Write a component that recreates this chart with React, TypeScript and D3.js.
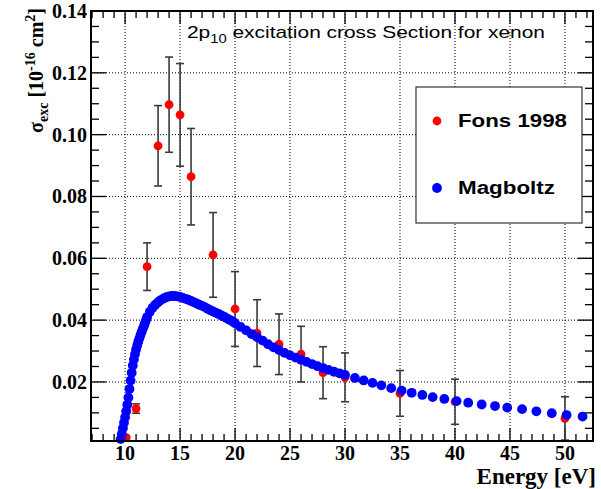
import React from "react";
import * as d3 from "d3";

// Fons 1998 measurements: energy (eV), cross section (1e-16 cm^2), error
const fonsEnergy = [10.1, 11, 12, 13, 14, 15, 16, 18, 20, 22, 24, 26, 28, 30, 35, 40, 50];
const fonsSigma = [0.002, 0.0114, 0.0573, 0.0964, 0.1097, 0.1064, 0.0864, 0.0611, 0.0436, 0.0358, 0.0322, 0.029, 0.023, 0.0215, 0.0163, 0.0136, 0.0082];
const fonsError = [0.0004, 0.0015, 0.0077, 0.013, 0.0154, 0.0166, 0.0156, 0.0137, 0.0121, 0.0108, 0.0098, 0.009, 0.0084, 0.0079, 0.0074, 0.0073, 0.007];

// Magboltz calculation
const magEnergy = [
  9.6, 9.7, 9.8, 9.9, 10.0, 10.1, 10.2, 10.3, 10.4, 10.5, 10.6, 10.7, 10.8, 10.9,
  11.0, 11.1, 11.2, 11.3, 11.4, 11.5, 11.6, 11.7, 11.8, 11.9, 12.0, 12.25, 12.5,
  12.75, 13.0, 13.25, 13.5, 13.75, 14.0, 14.25, 14.5, 14.75, 15.0, 15.25, 15.5,
  15.75, 16.0, 16.25, 16.5, 16.75, 17.0, 17.25, 17.5, 17.75, 18.0, 18.25, 18.5,
  18.75, 19.0, 19.25, 19.5, 19.75, 20.0, 20.5, 21.0, 21.5, 22.0, 22.5, 23.0, 23.5,
  24.0, 24.5, 25.0, 25.5, 26.0, 26.5, 27.0, 27.5, 28.0, 28.5, 29.0, 29.5, 30.0,
  30.9, 31.7, 32.5, 33.3, 34.2, 35.15, 36.06, 37.03, 37.97, 39.03, 40.15, 41.2,
  42.43, 43.64, 44.75, 46.1, 47.4, 48.8, 50.15, 51.6,
];
const magSigma = [
  0.0015, 0.0032, 0.005, 0.0068, 0.0086, 0.0105, 0.0126, 0.015, 0.0177, 0.0205,
  0.023, 0.0253, 0.0273, 0.029, 0.0305, 0.0318, 0.033, 0.0341, 0.0352, 0.0362,
  0.0371, 0.038, 0.039, 0.04, 0.041, 0.0427, 0.044, 0.045, 0.0458, 0.0465, 0.047,
  0.0474, 0.0477, 0.0478, 0.0478, 0.0477, 0.0475, 0.0472, 0.0469, 0.0466, 0.0462,
  0.0458, 0.0454, 0.045, 0.0446, 0.0442, 0.0437, 0.0432, 0.0428, 0.0424, 0.042,
  0.0415, 0.0411, 0.0406, 0.0401, 0.0396, 0.039, 0.0378, 0.0367, 0.0355, 0.0345,
  0.0334, 0.0322, 0.0312, 0.0303, 0.0294, 0.0286, 0.0279, 0.0272, 0.0265, 0.0258,
  0.0251, 0.0245, 0.0239, 0.0233, 0.0228, 0.0223, 0.0213, 0.0205, 0.0197, 0.0189,
  0.018, 0.0172, 0.0165, 0.0158, 0.0151, 0.0145, 0.0138, 0.0133, 0.0127, 0.0122,
  0.0117, 0.0112, 0.0105, 0.0099, 0.0093, 0.0088,
];

const xTickValues = [10, 15, 20, 25, 30, 35, 40, 45, 50];
const yTickValues = [0.02, 0.04, 0.06, 0.08, 0.1, 0.12, 0.14];
const yTickLabels = ["0.02", "0.04", "0.06", "0.08", "0.10", "0.12", "0.14"];

const W = 601;
const H = 489;
const L = 91, R = 593, T = 11, B = 441;

const SERIF = "'Liberation Serif', 'Times New Roman', serif";
const SANS = "'Liberation Sans', Arial, Helvetica, sans-serif";

export default function App() {
  const x = d3.scaleLinear().domain([6.9, 52.55]).range([L, R]);
  const y = d3.scaleLinear().domain([0.0009, 0.14]).range([B, T]);

  const xMinor = d3.range(7, 53, 1).filter((v) => v % 5 !== 0);
  const yMinor = d3.range(0.005, 0.14, 0.005).filter((v) => Math.abs(v / 0.02 - Math.round(v / 0.02)) > 1e-6);

  const xMajLen = 13, xMinLen = 7, yMajLen = 15, yMinLen = 8;

  return (
    <svg
      width={W}
      height={H}
      style={{ position: "fixed", left: 0, top: 0, background: "#fff" }}
    >
      <rect x={0} y={0} width={W} height={H} fill="#fff" />

      {/* grid */}
      <g stroke="#000" strokeWidth={1} strokeDasharray="1 2">
        {xTickValues.map((v) => (
          <line key={"gx" + v} x1={x(v)} x2={x(v)} y1={T} y2={B} />
        ))}
        {yTickValues.map((v) => (
          <line key={"gy" + v} x1={L} x2={R} y1={y(v)} y2={y(v)} />
        ))}
      </g>

      {/* ticks */}
      <g stroke="#000" strokeWidth={1.3}>
        {xTickValues.map((v) => (
          <g key={"tx" + v}>
            <line x1={x(v)} x2={x(v)} y1={B} y2={B - xMajLen} />
            <line x1={x(v)} x2={x(v)} y1={T} y2={T + xMajLen} />
          </g>
        ))}
        {xMinor.map((v) => (
          <g key={"mx" + v}>
            <line x1={x(v)} x2={x(v)} y1={B} y2={B - xMinLen} />
            <line x1={x(v)} x2={x(v)} y1={T} y2={T + xMinLen} />
          </g>
        ))}
        {yTickValues.map((v) => (
          <g key={"ty" + v}>
            <line x1={L} x2={L + yMajLen} y1={y(v)} y2={y(v)} />
            <line x1={R} x2={R - yMajLen} y1={y(v)} y2={y(v)} />
          </g>
        ))}
        {yMinor.map((v, i) => (
          <g key={"my" + i}>
            <line x1={L} x2={L + yMinLen} y1={y(v)} y2={y(v)} />
            <line x1={R} x2={R - yMinLen} y1={y(v)} y2={y(v)} />
          </g>
        ))}
      </g>

      {/* Fons 1998 error bars and points */}
      <g stroke="#3a3a3a" strokeWidth={1.6}>
        {fonsEnergy.map((e, i) => {
          const cx = x(e);
          const y1 = Math.min(B, y(fonsSigma[i] - fonsError[i]));
          const y2 = y(fonsSigma[i] + fonsError[i]);
          return (
            <g key={"eb" + i}>
              <line x1={cx} x2={cx} y1={y1} y2={y2} />
              <line x1={cx - 4} x2={cx + 4} y1={y2} y2={y2} />
              {y1 < B - 0.5 && <line x1={cx - 4} x2={cx + 4} y1={y1} y2={y1} />}
            </g>
          );
        })}
      </g>
      <g fill="#ff0000">
        {fonsEnergy.map((e, i) => (
          <circle key={"f" + i} cx={x(e)} cy={y(fonsSigma[i])} r={4.4} />
        ))}
      </g>

      {/* Magboltz points */}
      <g fill="#0000ff">
        {magEnergy.map((e, i) => (
          <circle key={"m" + i} cx={x(e)} cy={y(magSigma[i])} r={4.9} />
        ))}
      </g>

      {/* frame */}
      <rect x={L} y={T} width={R - L} height={B - T} fill="none" stroke="#000" strokeWidth={2} />

      {/* tick labels */}
      <g fontFamily={SERIF} fontWeight="bold" fontSize={20} fill="#000">
        {xTickValues.map((v) => (
          <text key={"lx" + v} x={x(v)} y={460} textAnchor="middle">
            {v}
          </text>
        ))}
        {yTickValues.map((v, i) => (
          <text key={"ly" + v} x={87} y={y(v) + 7} textAnchor="end">
            {yTickLabels[i]}
          </text>
        ))}
      </g>

      {/* axis titles */}
      <text
        x={596}
        y={484}
        textAnchor="end"
        fontFamily={SERIF}
        fontWeight="bold"
        fontSize={23}
      >
        Energy [eV]
      </text>
      <text
        transform="translate(43,8) rotate(-90)"
        textAnchor="end"
        fontFamily={SERIF}
        fontWeight="bold"
        fontSize={20}
      >
        σ
        <tspan fontSize={14} dy={5}>exc</tspan>
        <tspan dy={-5}> [10</tspan>
        <tspan fontSize={14} dy={-8}>-16</tspan>
        <tspan dy={8}> cm</tspan>
        <tspan fontSize={14} dy={-8}>2</tspan>
        <tspan dy={8}>]</tspan>
      </text>

      {/* title */}
      <g transform="translate(187,38) scale(1.23,1)">
        <text x={0} y={0} fontFamily={SANS} fontSize={17} fill="#000">
          2p
          <tspan fontSize={12} dy={5}>10</tspan>
          <tspan dy={-5}> excitation cross Section for xenon</tspan>
        </text>
      </g>

      {/* legend */}
      <rect x={416} y={87} width={166} height={136} fill="#fff" stroke="#333" strokeWidth={1.2} />
      <circle cx={437} cy={121} r={4.4} fill="#ff0000" />
      <circle cx={437} cy={188} r={4.9} fill="#0000ff" />
      <g fontFamily={SANS} fontWeight="bold" fontSize={18} fill="#000">
        <text x={458} y={127} textLength={109} lengthAdjust="spacingAndGlyphs">
          Fons 1998
        </text>
        <text x={458} y={194} textLength={97} lengthAdjust="spacingAndGlyphs">
          Magboltz
        </text>
      </g>
    </svg>
  );
}
